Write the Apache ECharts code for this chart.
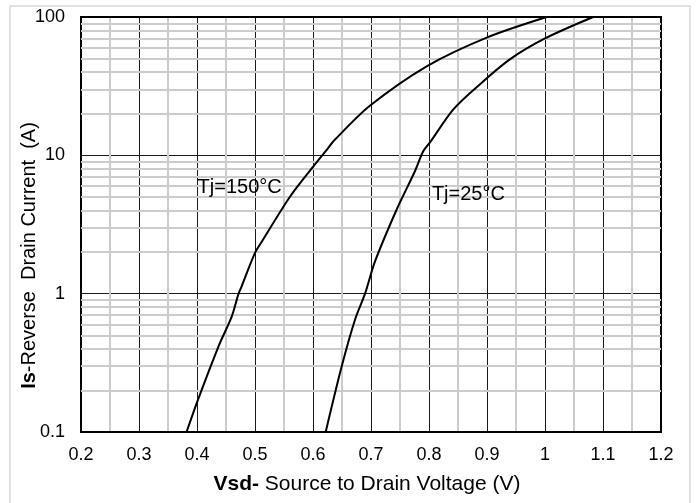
<!DOCTYPE html>
<html>
<head>
<meta charset="utf-8">
<script src="https://cdn.jsdelivr.net/npm/echarts@6/dist/echarts.min.js"></script>
<style>
  html, body { margin: 0; padding: 0; background: #fff; }
  #chart { width: 697px; height: 503px; }
</style>
</head>
<body>
<div id="chart"></div>
<script>
// Body-diode forward characteristic: reverse drain current vs source-drain voltage
const seriesNames = ['Tj=150°C', 'Tj=25°C'];

// Tj = 150 °C curve
const vsd150 = [0.382, 0.4005, 0.437, 0.460, 0.471, 0.477, 0.500, 0.514, 0.560, 0.6034, 0.624, 0.638, 0.698, 0.796, 0.8995, 1.003];
const is150  = [0.1,   0.166,  0.415, 0.685, 0.98,  1.13,  1.97,  2.46,  5.0,   8.6,    11.0,  13.0,  22.8,  44.0,  71.0,   100];

// Tj = 25 °C curve
const vsd25 = [0.6219, 0.6494, 0.6724, 0.6897, 0.7069, 0.7443, 0.7759, 0.790, 0.8017, 0.842, 0.888, 0.940, 1.000, 1.083];
const is25  = [0.1,    0.297,  0.648,  1.0,    1.71,   4.06,   7.7,    10.7,  12.4,   21.5,  32.7,  49.6,  70.0,  100];

// Minor (2..9) decade gridlines of the logarithmic current axis
const yMinorTicks = [0.2, 0.3, 0.4, 0.5, 0.6, 0.7, 0.8, 0.9,
                     2, 3, 4, 5, 6, 7, 8, 9,
                     20, 30, 40, 50, 60, 70, 80, 90];

const FONT = '"Liberation Sans", Arial, sans-serif';
const pair = (xs, ys) => xs.map((x, i) => [x, ys[i]]);

const chart = echarts.init(document.getElementById('chart'), null, { renderer: 'canvas' });

function curveSeries(name, data, labelCoord) {
  return {
    type: 'line',
    name: name,
    data: data,
    showSymbol: false,
    smooth: 0.3,
    z: 5,
    lineStyle: { color: '#000', width: 2 },
    markPoint: {
      silent: true,
      symbol: 'circle',
      symbolSize: 0,
      label: {
        show: true,
        position: 'right',
        distance: 0,
        formatter: name,
        color: '#000',
        fontSize: 20,
        fontFamily: FONT
      },
      data: [{ coord: labelCoord }]
    }
  };
}

const titleRich = {
  b: { fontSize: 21, fontWeight: 'bold', color: '#000', fontFamily: FONT },
  n: { fontSize: 21, color: '#000', fontFamily: FONT }
};

const option = {
  animation: false,
  backgroundColor: '#fff',
  graphic: [{
    type: 'rect',
    silent: true,
    shape: { x: 10, y: 6, width: 680, height: 520 },
    style: { fill: 'none', stroke: '#d9d9d9', lineWidth: 1.5 }
  }],
  grid: {
    left: 81, right: 36, top: 17, bottom: 71,
    show: true, borderColor: '#000', borderWidth: 2,
    backgroundColor: 'transparent', z: 4
  },
  xAxis: {
    type: 'value',
    min: 0.2, max: 1.2, interval: 0.1,
    z: 3,
    axisLine: { show: true, lineStyle: { color: '#000', width: 2 } },
    axisTick: { show: false },
    axisLabel: { margin: 14, fontSize: 18, color: '#000', fontFamily: FONT },
    splitLine: { show: true, lineStyle: { color: '#1a1a1a', width: 1 } },
    minorTick: { show: false, splitNumber: 2 },
    minorSplitLine: { show: true, lineStyle: { color: '#cccccc', width: 2 } },
    name: '{b|Vsd-}{n| Source to Drain Voltage (V)}',
    nameLocation: 'middle',
    nameGap: 42,
    nameMoveOverlap: false,
    nameTextStyle: {
      fontSize: 21, color: '#000', fontFamily: FONT,
      padding: [0, 8, 0, 0],
      rich: titleRich
    }
  },
  yAxis: {
    type: 'log',
    logBase: 10,
    min: 0.1, max: 100,
    z: 3,
    axisLine: { show: true, lineStyle: { color: '#000', width: 2 } },
    axisTick: { show: false },
    axisLabel: { margin: 16, fontSize: 18, color: '#000', fontFamily: FONT },
    splitLine: { show: true, lineStyle: { color: '#1a1a1a', width: 1 } },
    name: '{b|Is}{n|-Reverse  Drain Current  (A)}',
    nameLocation: 'middle',
    nameRotate: 90,
    nameGap: 42,
    nameMoveOverlap: false,
    nameTextStyle: {
      fontSize: 20, color: '#000', fontFamily: FONT,
      padding: [0, 62, 0, 0],
      rich: {
        b: { fontSize: 20, fontWeight: 'bold', color: '#000', fontFamily: FONT },
        n: { fontSize: 20, color: '#000', fontFamily: FONT }
      }
    }
  },
  series: [
    {
      type: 'line',
      name: 'minor-grid',
      data: [],
      z: 1,
      silent: true,
      markLine: {
        silent: true,
        symbol: ['none', 'none'],
        label: { show: false },
        lineStyle: { color: '#cccccc', width: 2, type: 'solid' },
        data: yMinorTicks.map(v => ({ yAxis: v }))
      }
    },
    curveSeries(seriesNames[0], pair(vsd150, is150), [0.401, 5.9]),
    curveSeries(seriesNames[1], pair(vsd25, is25), [0.805, 5.2])
  ]
};

chart.setOption(option);
</script>
</body>
</html>
